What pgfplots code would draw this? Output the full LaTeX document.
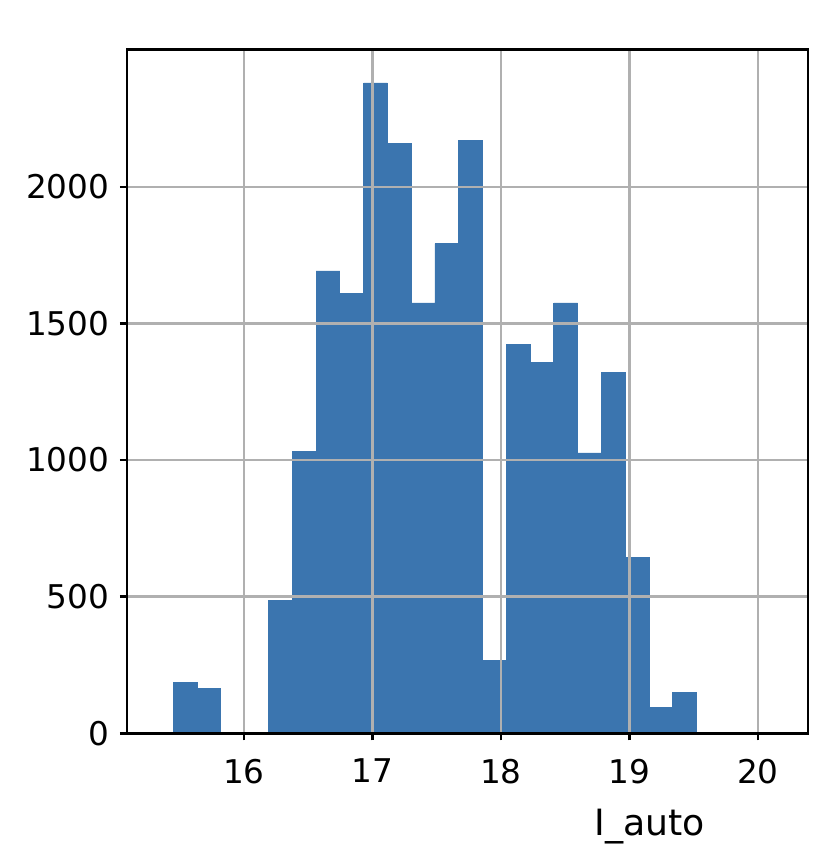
\documentclass[border=0pt]{standalone}
\usepackage{fontspec}
\setmainfont{DejaVu Sans}
\usepackage{pgfplots}
\pgfplotsset{compat=1.18}
\definecolor{histblue}{RGB}{59,117,175}
\definecolor{gridgray}{RGB}{176,176,176}

\begin{document}
\begin{tikzpicture}
\useasboundingbox (0,0) rectangle (8.24,8.60);
\begin{axis}[
    at={(1.27cm,1.267cm)}, anchor=south west,
    scale only axis,
    width=6.81cm, height=6.84cm,
    xmin=15.09, xmax=20.39,
    ymin=0, ymax=2503,
    xtick={16,17,18,19,20},
    ytick={0,500,1000,1500,2000},
    grid=major,
    grid style={gridgray, line width=0.7pt},
    axis on top,
    axis line style={black, line width=0.7pt},
    tick align=outside, tick pos=left,
    major tick length=0.07cm,
    tick style={black, line width=0.7pt},
    /pgf/number format/assume math mode=true,
    /pgf/number format/1000 sep={},
    ticklabel style={font=\fontsize{9.3}{11}\selectfont, inner sep=0pt},
    xticklabel style={anchor=north, yshift=-0.18cm},
    yticklabel style={anchor=east, xshift=-0.10cm},
    xlabel={I\_auto},
    xlabel style={at={(axis description cs:0.768,0)}, anchor=north, inner sep=0pt,
        yshift=-0.75cm, font=\fontsize{10.3}{12}\selectfont},
]
\addplot[ybar interval, fill=histblue, draw=histblue, line width=0.2pt] coordinates {
(15.450,186) (15.635,165) (15.820,0) (16.005,0) (16.191,485) (16.376,1033)
(16.561,1692) (16.746,1609) (16.931,2380) (17.116,2158) (17.301,1575)
(17.487,1792) (17.672,2170) (17.857,268) (18.042,1423) (18.227,1356)
(18.412,1575) (18.597,1026) (18.783,1320) (18.968,644) (19.153,94)
(19.338,150) (19.523,0)
};
\end{axis}
\end{tikzpicture}
\end{document}
